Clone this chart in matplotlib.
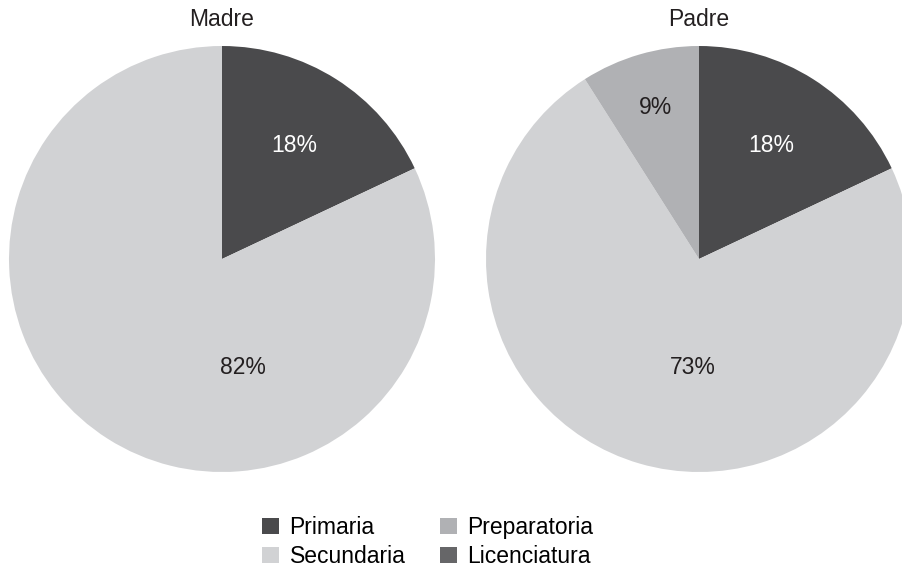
import matplotlib
matplotlib.use('Agg')
import matplotlib.pyplot as plt
from matplotlib.patches import Patch

plt.rcParams['font.family'] = ['Liberation Sans', 'DejaVu Sans']

categories = ['Primaria', 'Secundaria', 'Preparatoria', 'Licenciatura']
colors = ['#4a4a4c', '#d1d2d4', '#b0b1b4', '#666668']
madre = [18, 82, 0, 0]
padre = [18, 73, 9, 0]

W, H = 902, 568
fig = plt.figure(figsize=(W / 100, H / 100), dpi=100)

# pie centres and radius in pixels
R = 213
centres = [(222, 259), (699, 259)]
titles = ['Madre', 'Padre']
series = [madre, padre]
# manual label nudges for the big slice (Excel style placement)
big_pos = [(0.1, -0.51), (-0.03, -0.51)]

for (cx, cy), title, vals, bp in zip(centres, titles, series, big_pos):
    ax = fig.add_axes([(cx - R) / W, (H - cy - R) / H, 2 * R / W, 2 * R / H])
    vs = [v for v in vals if v > 0]
    cs = [c for v, c in zip(vals, colors) if v > 0]
    tcol = ['white' if c == '#4a4a4c' else '#231f20' for c in cs]
    wedges, texts, autos = ax.pie(vs, colors=cs, startangle=90, counterclock=False,
                                  autopct='%1.0f%%', pctdistance=0.63,
                                  wedgeprops=dict(linewidth=0),
                                  textprops=dict(fontsize=16.5))
    for t, c in zip(autos, tcol):
        t.set_color(c)
    autos[1].set_position(bp)
    if len(autos) > 2:
        x, y = autos[2].get_position()
        autos[2].set_position((x * 0.74 / 0.63, y * 0.74 / 0.63))
    ax.set_xlim(-1, 1)
    ax.set_ylim(-1, 1)
    ax.set_aspect('equal')
    ax.axis('off')
    fig.text(cx / W, 1 - 20 / H, title, ha='center', va='center', fontsize=16.5, color='#231f20')

handles = [Patch(facecolor=c, edgecolor='none') for c in colors]
fig.legend(handles, categories, loc='center left', bbox_to_anchor=(262 / W, 0.046), ncol=2,
           frameon=False, fontsize=16.5, handlelength=0.75, handleheight=0.7,
           columnspacing=1.5, labelspacing=0.28, handletextpad=0.45,
           borderpad=0, borderaxespad=0)

fig.savefig('out.png', dpi=100)
